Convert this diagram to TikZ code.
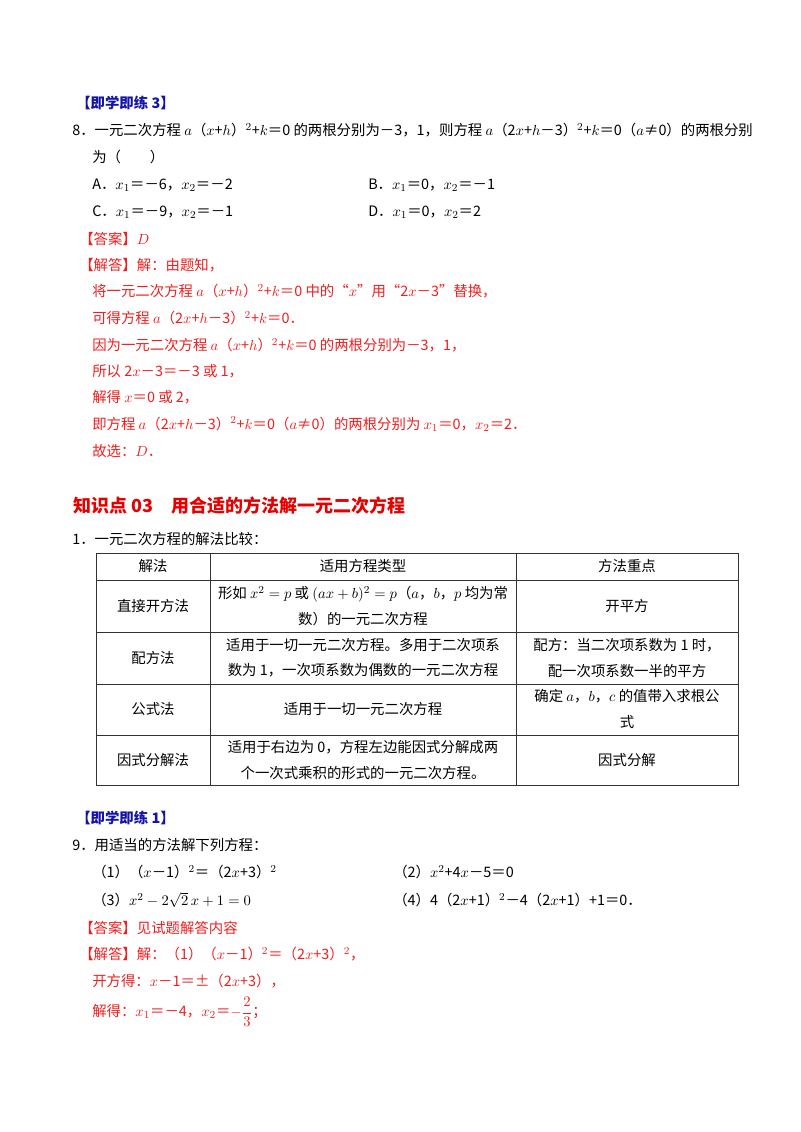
\documentclass[tikz,border=0pt]{standalone}
\usepackage{amsmath}
\usepackage{fontspec}
\setmainfont{Noto Sans CJK SC}
\definecolor{ansRed}{RGB}{240,30,30}
\definecolor{tagBlue}{RGB}{20,20,170}
\definecolor{headRed}{RGB}{230,0,0}
\tikzset{
  txt/.style={anchor=west, inner sep=0pt, font=\fontsize{10.8}{13}\selectfont},
  ans/.style={txt, text=ansRed},
  tag/.style={txt, text=tagBlue, font=\fontsize{10.8}{13}\bfseries\selectfont},
  cell/.style={inner sep=0pt, align=center, font=\fontsize{10.8}{19}\selectfont},
  grid/.style={line width=0.6pt, black!80}
}
\begin{document}
\begin{tikzpicture}[x=0.75pt, y=-0.75pt]
\useasboundingbox (0,0) rectangle (800,1132);

% question 8
\node[tag] (tagA) at (76,103) {【即学即练 3】};
\node[txt] (q8) at (72,130) {8．一元二次方程 $a$（$x$+$h$）$^{2}$+$k$＝0 的两根分别为－3，1，则方程 $a$（2$x$+$h$－3）$^{2}$+$k$＝0（$a$≠0）的两根分别};
\node[txt] (q8b) at (92,157) {为（　　）};
\node[txt] (optA) at (92,185) {A．$x_1$＝－6，$x_2$＝－2};
\node[txt] (optB) at (368,185) {B．$x_1$＝0，$x_2$＝－1};
\node[txt] (optC) at (92,212) {C．$x_1$＝－9，$x_2$＝－1};
\node[txt] (optD) at (368,212) {D．$x_1$＝0，$x_2$＝2};
\node[ans] (ansA) at (79,239) {【答案】$D$};
\node[ans] (solA) at (79,265) {【解答】解：由题知，};
\node[ans] (solA1) at (92,291) {将一元二次方程 $a$（$x$+$h$）$^{2}$+$k$＝0 中的“$x$”用“2$x$－3”替换，};
\node[ans] (solA2) at (92,318) {可得方程 $a$（2$x$+$h$－3）$^{2}$+$k$＝0．};
\node[ans] (solA3) at (92,345) {因为一元二次方程 $a$（$x$+$h$）$^{2}$+$k$＝0 的两根分别为－3，1，};
\node[ans] (solA4) at (92,371) {所以 2$x$－3＝－3 或 1，};
\node[ans] (solA5) at (92,397) {解得 $x$＝0 或 2，};
\node[ans] (solA6) at (92,424) {即方程 $a$（2$x$+$h$－3）$^{2}$+$k$＝0（$a$≠0）的两根分别为 $x_1$＝0，$x_2$＝2．};
\node[ans] (solA7) at (92,451) {故选：$D$．};

% knowledge point
\node[txt, text=headRed, font=\fontsize{13.5}{16}\bfseries\selectfont] (kp) at (73,506) {知识点 03\quad 用合适的方法解一元二次方程};
\node[txt] (cmp) at (72,539) {1．一元二次方程的解法比较：};

% table
\draw[grid] (96,553) rectangle (738,785);
\foreach \yy in {580,632,684,735} \draw[grid] (96,\yy) -- (738,\yy);
\foreach \xx in {210,516} \draw[grid] (\xx,553) -- (\xx,785);
\node[cell] (h1) at (153,566) {解法};
\node[cell] (h2) at (363,566) {适用方程类型};
\node[cell] (h3) at (627,566) {方法重点};
\node[cell] (r1a) at (153,606) {直接开方法};
\node[cell] (r1b) at (363,606) {形如 $x^2=p$ 或 $(ax+b)^2=p$（$a$，$b$，$p$ 均为常\\数）的一元二次方程};
\node[cell] (r1c) at (627,606) {开平方};
\node[cell] (r2a) at (153,658) {配方法};
\node[cell] (r2b) at (363,658) {适用于一切一元二次方程。多用于二次项系\\数为 1，一次项系数为偶数的一元二次方程};
\node[cell] (r2c) at (627,658) {配方：当二次项系数为 1 时，\\配一次项系数一半的平方};
\node[cell] (r3a) at (153,709) {公式法};
\node[cell] (r3b) at (363,709) {适用于一切一元二次方程};
\node[cell] (r3c) at (627,709) {确定 $a$，$b$，$c$ 的值带入求根公\\式};
\node[cell] (r4a) at (153,760) {因式分解法};
\node[cell] (r4b) at (363,760) {适用于右边为 0，方程左边能因式分解成两\\个一次式乘积的形式的一元二次方程。};
\node[cell] (r4c) at (627,760) {因式分解};

% question 9
\node[tag] (tagB) at (76,818) {【即学即练 1】};
\node[txt] (q9) at (72,845) {9．用适当的方法解下列方程：};
\node[txt] (p1) at (92,872) {（1）（$x$－1）$^{2}$＝（2$x$+3）$^{2}$};
\node[txt] (p2) at (393,872) {（2）$x^{2}$+4$x$－5＝0};
\node[txt] (p3) at (92,900) {（3）$x^2-2\sqrt{2}\,x+1=0$};
\node[txt] (p4) at (393,900) {（4）4（2$x$+1）$^{2}$－4（2$x$+1）+1＝0．};
\node[ans] (ansB) at (79,928) {【答案】见试题解答内容};
\node[ans] (solB) at (79,954) {【解答】解：（1）（$x$－1）$^{2}$＝（2$x$+3）$^{2}$，};
\node[ans] (solB1) at (92,981) {开方得：$x$－1＝±（2$x$+3），};
\node[ans] (solB2) at (92,1012) {解得：$x_1$＝－4，$x_2$＝$-\dfrac{2}{3}$；};
\end{tikzpicture}
\end{document}
